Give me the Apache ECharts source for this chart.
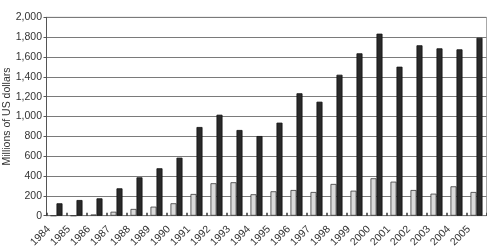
<!DOCTYPE html>
<html>
<head>
<meta charset="utf-8">
<style>
  html, body { margin: 0; padding: 0; background: #fff; }
  #chart { width: 487px; height: 250px; }
</style>
<script src="https://cdn.jsdelivr.net/npm/echarts@6.0.0/dist/echarts.min.js"></script>
</head>
<body>
<div id="chart"></div>
<script>
// 年份
const years = ['1984', '1985', '1986', '1987', '1988', '1989', '1990', '1991', '1992', '1993', '1994',
  '1995', '1996', '1997', '1998', '1999', '2000', '2001', '2002', '2003', '2004', '2005']
// 浅灰柱
const lightValues = [0, 0, 12, 40, 68, 91, 125, 219, 327, 337, 216,
  246, 259, 239, 320, 252, 377, 343, 259, 222, 296, 239]
// 黑柱
const darkValues = [125, 158, 175, 276, 387, 478, 585, 894, 1018, 864, 803,
  938, 1234, 1149, 1421, 1637, 1835, 1502, 1718, 1687, 1677, 1794]
const yTicks = [0, 200, 400, 600, 800, 1000, 1200, 1400, 1600, 1800, 2000]

const myChart = echarts.init(document.getElementById('chart'))
const font = 'Liberation Sans, Arial, sans-serif'

const chartOption = {
  animation: false,
  grid: {
    left: 46.5,
    top: 17.3,
    width: 440,
    height: 198.4,
    outerBoundsMode: 'none',
    containLabel: false,
    show: true,
    borderColor: '#a8a8a8',
    borderWidth: 1
  },
  xAxis: {
    type: 'category',
    data: years,
    axisLine: { show: true, lineStyle: { color: '#7a7a7a', width: 1 } },
    axisTick: { show: true, inside: true, length: 3, lineStyle: { color: '#333', width: 1.5 } },
    axisLabel: {
      rotate: 45,
      margin: 4,
      padding: [0, 11, 0, 0],
      fontSize: 10.5,
      fontFamily: font,
      color: '#333',
      interval: 0
    }
  },
  yAxis: {
    type: 'value',
    min: yTicks[0],
    max: yTicks[yTicks.length - 1],
    interval: 200,
    name: 'Millions of US dollars',
    nameLocation: 'middle',
    nameGap: 34,
    nameMoveOverlap: false,
    nameTextStyle: { fontSize: 10.5, fontFamily: font, color: '#333' },
    axisLine: { show: true, lineStyle: { color: '#555', width: 1 } },
    axisTick: { show: true, length: 3, lineStyle: { color: '#555' } },
    axisLabel: {
      margin: 4.5,
      fontSize: 10.5,
      fontFamily: font,
      color: '#333',
      formatter: (v) => v.toLocaleString('en-US')
    },
    splitLine: { show: true, lineStyle: { color: '#7a7a7a', width: 1 } }
  },
  series: [
    {
      type: 'bar',
      data: lightValues,
      barWidth: 6,
      barGap: '0%',
      itemStyle: { color: '#dadada', borderColor: '#3a3a3a', borderWidth: 0.8 }
    },
    {
      type: 'bar',
      data: darkValues,
      barWidth: 6,
      itemStyle: { color: '#2a2a2a', borderColor: '#111', borderWidth: 0.8 }
    }
  ]
}
myChart.setOption(chartOption)
</script>
</body>
</html>
